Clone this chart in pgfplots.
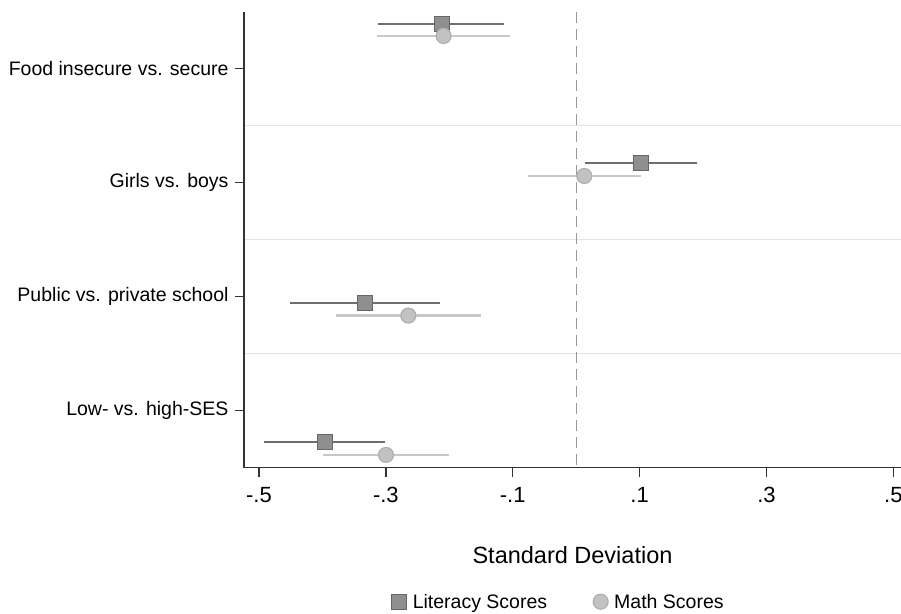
\documentclass[border=0pt]{standalone}
\usepackage{pgfplots}
\pgfplotsset{compat=1.18}
\usepackage{pgfplotstable}
\usepackage{fontspec}
\setmainfont{Liberation Sans}
\definecolor{litfill}{HTML}{8F8F8F}
\definecolor{litdraw}{HTML}{666666}
\definecolor{litline}{HTML}{6E6E6E}
\definecolor{mathfill}{HTML}{C2C2C2}
\definecolor{mathdraw}{HTML}{B0B0B0}
\definecolor{mathline}{HTML}{C8C8C8}
\definecolor{sepline}{HTML}{DDE7E7}
\definecolor{axcol}{HTML}{333333}

\pgfplotstableread{
b lo hi y
-0.212 -0.312 -0.113 -0.391
0.1016 0.0134 0.190 0.832
-0.3325 -0.4515 -0.2147 2.056
-0.396 -0.4916 -0.301 3.277
}\literacy
\pgfplotstableread{
b lo hi y
-0.209 -0.314 -0.104 -0.283
0.0128 -0.0755 0.102 0.944
-0.2646 -0.3786 -0.1496 2.167
-0.2998 -0.3996 -0.200 3.388
}\math

\begin{document}
\begin{tikzpicture}[x=1pt,y=1pt]
\path[use as bounding box] (0,0) rectangle (901,613);
\begin{axis}[
  at={(244pt,145.3pt)}, anchor=south west,
  scale only axis, width=657pt, height=455.7pt,
  xmin=-0.5236, xmax=0.512, ymin=-0.493, ymax=3.50,
  y dir=reverse,
  axis on top,
  axis x line*=bottom, axis y line*=left,
  axis line style={line width=1.5pt, color=axcol, -},
  tick style={line width=1.3pt, color=axcol},
  tick align=outside, major tick length=9pt,
  xtick={-0.5,-0.3,-0.1,0.1,0.3,0.5},
  xticklabels={-.5,-.3,-.1,.1,.3,.5},
  ytick={0,1,2,3},
  yticklabels={Food insecure vs. secure, Girls vs. boys, Public vs. private school, Low- vs. high-SES},
  xticklabel style={font=\fontsize{22}{26}\selectfont, anchor=base, yshift=-26pt},
  yticklabel style={font=\fontsize{19.5}{23}\selectfont, xshift=-3pt},
  xlabel={Standard Deviation},
  xlabel style={font=\fontsize{23.5}{28}\selectfont, at={(axis description cs:0.5,0)}, anchor=base, yshift=-95.3pt},
  legend style={at={(axis description cs:0.479,-0.294)}, anchor=center, draw=none, fill=none,
    font=\fontsize{19.5}{23}\selectfont, legend columns=2,
    /tikz/every odd column/.append style={column sep=4pt},
    /tikz/every even column/.append style={column sep=44pt}},
  legend cell align=left,
  clip=false,
]
\draw[sepline, line width=1.5pt] (axis cs:-0.5236,0.5) -- (axis cs:0.512,0.5);
\draw[sepline, line width=1.5pt] (axis cs:-0.5236,1.5) -- (axis cs:0.512,1.5);
\draw[sepline, line width=1.5pt] (axis cs:-0.5236,2.5) -- (axis cs:0.512,2.5);
\draw[gray!80, line width=1pt, dash pattern=on 11pt off 6pt] (axis cs:0.0008,-0.493) -- (axis cs:0.0008,3.50);
\addplot[only marks, mark=square*, mark size=7.5pt, mark options={fill=litfill, draw=litdraw, line width=1.2pt},
  error bars/.cd, x dir=both, x explicit, error mark=none,
  error bar style={line width=2.2pt, color=litline}]
  table[x=b, y=y, x error plus expr=\thisrow{hi}-\thisrow{b}, x error minus expr=\thisrow{b}-\thisrow{lo}] {\literacy};
\addlegendentry{Literacy Scores}
\addplot[only marks, mark=*, mark size=7.5pt, mark options={fill=mathfill, draw=mathdraw, line width=1.2pt},
  error bars/.cd, x dir=both, x explicit, error mark=none,
  error bar style={line width=2.2pt, color=mathline}]
  table[x=b, y=y, x error plus expr=\thisrow{hi}-\thisrow{b}, x error minus expr=\thisrow{b}-\thisrow{lo}] {\math};
\addlegendentry{Math Scores}
\end{axis}
\end{tikzpicture}
\end{document}
